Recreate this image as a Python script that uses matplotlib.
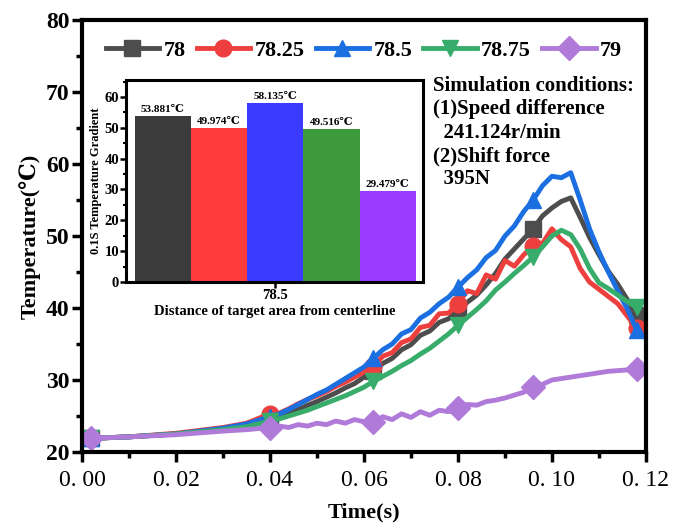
import numpy as np
import matplotlib
matplotlib.use('Agg')
import matplotlib.pyplot as plt
from matplotlib.ticker import MultipleLocator, FuncFormatter

plt.rcParams['font.family'] = ['Liberation Serif', 'DejaVu Serif']
plt.rcParams['mathtext.default'] = 'regular'

# Time axis (s), shared by all series
time_s = [0.002, 0.01, 0.02, 0.03, 0.035,
          0.040, 0.042, 0.044, 0.046, 0.048, 0.050, 0.052, 0.054, 0.056, 0.058,
          0.060, 0.062, 0.064, 0.066, 0.068, 0.070, 0.072, 0.074, 0.076, 0.078,
          0.080, 0.082, 0.084, 0.086, 0.088, 0.090, 0.092, 0.094, 0.096, 0.098,
          0.100, 0.102, 0.104, 0.106, 0.108, 0.110, 0.112, 0.114, 0.116, 0.118]

temp_78 = [21.9, 22.1, 22.5, 23.2, 23.7,
           24.4, 24.9, 25.4, 25.9, 26.5, 27.0, 27.6, 28.2, 28.9, 29.5,
           30.4, 31.2, 32.3, 33.0, 34.2, 34.9, 36.2, 36.8, 38.0, 38.5,
           39.6, 40.8, 41.8, 43.2, 44.8, 46.8, 48.2, 49.6, 51.0, 52.8,
           53.9, 54.8, 55.3, 52.6, 49.8, 47.4, 45.1, 43.3, 41.2, 39.0]

temp_7825 = [21.9, 22.1, 22.6, 23.4, 24.0,
             25.3, 25.4, 26.0, 26.7, 27.3, 27.8, 28.4, 29.1, 29.7, 30.4,
             31.1, 31.9, 33.3, 33.8, 35.2, 35.7, 37.3, 37.6, 39.2, 39.3,
             40.6, 42.4, 42.0, 44.6, 44.0, 46.6, 45.8, 47.4, 48.6, 49.0,
             51.0, 49.5, 48.5, 45.5, 43.6, 42.6, 41.6, 40.6, 38.9, 37.2]

temp_785 = [21.9, 22.1, 22.5, 23.3, 23.9,
            24.9, 25.3, 25.9, 26.6, 27.3, 28.0, 28.6, 29.4, 30.2, 31.0,
            31.8, 33.0, 34.2, 35.0, 36.4, 37.0, 38.6, 39.4, 40.6, 41.5,
            42.9, 44.2, 45.3, 47.0, 48.0, 50.0, 51.4, 53.4, 55.0, 57.0,
            58.3, 58.1, 58.8, 55.0, 51.0, 47.8, 45.0, 42.4, 39.9, 37.0]

temp_7875 = [21.9, 22.1, 22.5, 23.1, 23.5,
             24.3, 24.6, 25.0, 25.4, 25.8, 26.3, 26.8, 27.3, 27.8, 28.4,
             29.0, 29.8, 30.5, 31.2, 32.0, 32.7, 33.6, 34.4, 35.4, 36.4,
             37.6, 38.7, 39.8, 41.0, 42.5, 43.6, 44.8, 45.9, 47.1, 48.5,
             50.0, 50.8, 50.2, 48.2, 45.5, 43.5, 42.7, 41.8, 40.9, 40.1]

temp_79 = [21.9, 22.1, 22.4, 22.9, 23.1,
           23.4, 23.6, 23.4, 23.8, 23.6, 24.0, 23.8, 24.3, 24.0, 24.5,
           24.2, 24.1, 24.9, 24.5, 25.3, 24.8, 25.6, 25.1, 25.8, 25.6,
           26.1, 26.6, 26.5, 27.0, 27.2, 27.5, 27.9, 28.3, 29.0, 29.4,
           30.0, 30.2, 30.4, 30.6, 30.8, 31.0, 31.2, 31.3, 31.4, 31.5]

marker_times = [0.002, 0.040, 0.062, 0.080, 0.096, 0.118]

series_labels = ['78', '78.25', '78.5', '78.75', '79']
series_values = [temp_78, temp_7825, temp_785, temp_7875, temp_79]
series_colors = ['#4d4d4d', '#ee3f3f', '#1b6fe0', '#38ad6b', '#b07ad9']
series_markers = ['s', 'o', '^', 'v', 'D']

# Inset bar chart: 0.1 s temperature gradient at 78.5
bar_labels = ['53.881℃', '49.974℃', '58.135℃', '49.516℃', '29.479℃']
bar_values = [53.881, 49.974, 58.135, 49.516, 29.479]
bar_colors = ['#3b3b3b', '#ff3b3b', '#3b3bff', '#3c9a3c', '#9b3bff']
bar_category = '78.5'

fig = plt.figure(figsize=(6.73, 5.30), dpi=100)
ax = fig.add_axes([0.1218, 0.1472, 0.838, 0.815])

t = np.array(time_s)
marker_idx = [int(np.argmin(np.abs(t - m))) for m in marker_times]
for vals, lab, col, mk in zip(series_values, series_labels, series_colors, series_markers):
    ax.plot(t, vals, color=col, lw=3.5, marker=mk, markersize=12,
            markevery=marker_idx, label=lab, solid_joinstyle='round')

ax.set_xlim(0, 0.12)
ax.set_ylim(20, 80)
ax.xaxis.set_major_locator(MultipleLocator(0.02))
ax.xaxis.set_minor_locator(MultipleLocator(0.01))
ax.yaxis.set_major_locator(MultipleLocator(10))
ax.yaxis.set_minor_locator(MultipleLocator(5))
ax.xaxis.set_major_formatter(FuncFormatter(lambda v, p: f'{v:.2f}'.replace('.', '. ')))
ax.tick_params(axis='both', which='major', direction='out', length=7, width=2.5)
ax.tick_params(axis='both', which='minor', direction='out', length=4, width=2.5)
ax.tick_params(axis='y', labelsize=17, pad=2)
ax.tick_params(axis='x', labelsize=17, pad=6)
for lbl in ax.get_yticklabels():
    lbl.set_fontweight('bold')
for sp in ax.spines.values():
    sp.set_linewidth(3)

ax.set_xlabel('Time(s)', fontsize=16, fontweight='bold', labelpad=8)
ax.set_ylabel('Temperature(℃)', fontsize=16, fontweight='bold', labelpad=4)

ax.legend(loc='upper center', bbox_to_anchor=(0.5, 0.995), ncol=5, frameon=False,
          prop={'size': 16, 'weight': 'bold'}, handlelength=2.4, handletextpad=0.2,
          columnspacing=0.5, borderaxespad=0.4)

ax.text(0.622, 0.87,
        'Simulation conditions:\n(1)Speed difference\n  241.124r/min\n(2)Shift force\n  395N',
        transform=ax.transAxes, ha='left', va='top', fontsize=15, fontweight='bold',
        linespacing=1.22)

# Inset
ins = fig.add_axes([0.1872, 0.468, 0.441, 0.381])
w = 0.15
pos = [(i - 2) * w for i in range(5)]
ins.bar(pos, bar_values, width=w, color=bar_colors, edgecolor='none')
for x, v, lab in zip(pos, bar_values, bar_labels):
    ins.text(x, v + 0.6, lab, ha='center', va='bottom', fontsize=8, fontweight='bold')
ins.set_xlim(-0.399, 0.394)
ins.set_ylim(0, 65.5)
ins.set_xticks([0])
ins.set_xticklabels([bar_category])
ins.yaxis.set_major_locator(MultipleLocator(10))
ins.yaxis.set_minor_locator(MultipleLocator(5))
ins.tick_params(axis='both', which='major', direction='out', length=4, width=1.8, labelsize=10.5, pad=1)
ins.tick_params(axis='y', which='minor', direction='out', length=2, width=1.5)
for lbl in ins.get_yticklabels() + ins.get_xticklabels():
    lbl.set_fontweight('bold')
for sp in ins.spines.values():
    sp.set_linewidth(2.2)
ins.set_xlabel('Distance of target area from centerline', fontsize=10.5, fontweight='bold', labelpad=2)
ins.set_ylabel('0.1S Temperature Gradient', fontsize=9, fontweight='bold', labelpad=2)

fig.savefig('out.png', dpi=100)
